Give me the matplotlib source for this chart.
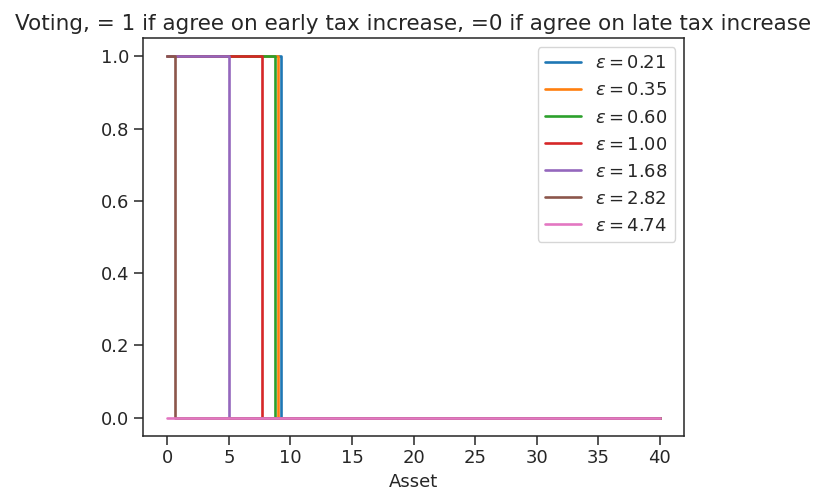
import matplotlib
matplotlib.use("Agg")
import matplotlib.pyplot as plt
import seaborn as sns

# asset level at which each voter switches from early (1) to late (0) tax increase
epsilons = [0.21, 0.35, 0.60, 1.00, 1.68, 2.82, 4.74]
switch_assets = [9.25, 9.02, 8.72, 7.65, 4.97, 0.62, 0.0]
asset_min = 0.0
asset_max = 40.0

sns.set_style("ticks")
plt.rcParams["font.family"] = ["DejaVu Sans"]

fig = plt.figure(figsize=(8.23, 4.9), dpi=100)
ax = fig.add_axes([0.1735, 0.111, 0.658, 0.811])

for eps, t in zip(epsilons, switch_assets):
    if t > asset_min:
        xs = [asset_min, t, t, asset_max]
        ys = [1, 1, 0, 0]
    else:
        xs = [asset_min, asset_max]
        ys = [0, 0]
    ax.plot(xs, ys, lw=1.9, label=r"$\varepsilon = %.2f$" % eps)

ax.set_xticks(range(0, 41, 5))
ax.set_yticks([0.0, 0.2, 0.4, 0.6, 0.8, 1.0])
ax.tick_params(labelsize=13, length=6.5, width=1.1)
for side in ax.spines.values():
    side.set_linewidth(1.1)
ax.set_xlabel("Asset", fontsize=13)
ax.set_title("Voting, = 1 if agree on early tax increase, =0 if agree on late tax increase",
             fontsize=15.5)
ax.legend(loc="upper right", fontsize=13)

fig.savefig("out.png", dpi=100)
